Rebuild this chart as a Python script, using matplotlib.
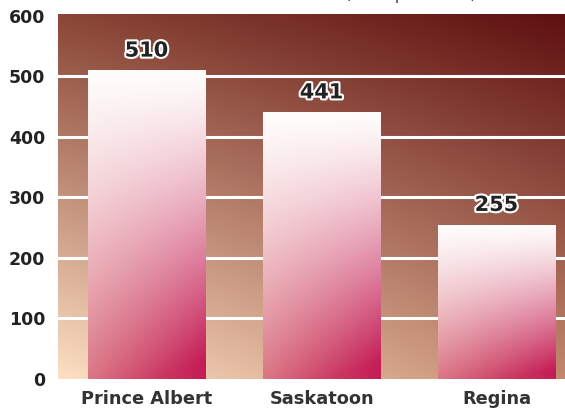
import numpy as np
import matplotlib
matplotlib.use("Agg")
import matplotlib.pyplot as plt
import matplotlib.patheffects as pe
from matplotlib.colors import to_rgb

# chart data
cities = ["Prince Albert", "Saskatoon", "Regina"]
values = [510, 441, 255]
y_ticks = [0, 100, 200, 300, 400, 500, 600]
title_text = "(Rate per 100K)"


def bilinear(tl, tr, bl, br, n=200):
    """Build an RGB image interpolated between four corner colours."""
    tl, tr, bl, br = [np.array(to_rgb(c)) for c in (tl, tr, bl, br)]
    u = np.linspace(0, 1, n)[None, :, None]   # left -> right
    v = np.linspace(0, 1, n)[:, None, None]   # top -> bottom
    top = tl * (1 - u) + tr * u
    bot = bl * (1 - u) + br * u
    return top * (1 - v) + bot * v


def bar_image(n=200):
    """White-to-crimson gradient, slightly tilted towards the lower right."""
    u = np.linspace(0, 1, n)[None, :, None]
    v = np.linspace(0, 1, n)[:, None, None] ** 1.25
    white = np.array(to_rgb("#fffdfc"))
    left = np.array(to_rgb("#d66474"))
    right = np.array(to_rgb("#c41d55"))
    bottom = left * (1 - u) + right * u
    t = np.clip(v * (0.88 + 0.2 * u), 0, 1)
    return white * (1 - t) + bottom * t


fig = plt.figure(figsize=(5.65, 4.09), dpi=100)
ax = fig.add_axes([58 / 565, 30 / 409, 507 / 565, 365 / 409])

x = np.arange(len(cities))
xlim = (-0.506, 2.391)
ylim = (0, 603)

# background gradient
bg = bilinear("#8a4636", "#5e1010", "#fde0c4", "#c2896e")
ax.imshow(bg, extent=(xlim[0], xlim[1], ylim[0], ylim[1]), aspect="auto", zorder=0)

# white gridlines
for t in y_ticks[1:-1]:
    ax.axhline(t, color="white", linewidth=2.2, zorder=1)

bars = ax.bar(x, values, width=0.67, color="none", edgecolor="none", zorder=2)
grad = bar_image()
for rect, val in zip(bars, values):
    x0, y0 = rect.get_x(), rect.get_y()
    w, h = rect.get_width(), rect.get_height()
    im = ax.imshow(grad, extent=(x0, x0 + w, y0, y0 + h), aspect="auto", zorder=2)
    im.set_clip_path(rect)
    ax.text(x0 + w / 2, h + 16, f"{val}", ha="center", va="bottom",
            fontsize=15, fontweight="bold", color="#222222", zorder=4,
            path_effects=[pe.withStroke(linewidth=3, foreground="white")])

ax.set_xlim(*xlim)
ax.set_ylim(*ylim)

ax.set_xticks(x)
ax.set_xticklabels(cities, fontsize=12.8, fontweight="bold", color="#333333")
ax.set_yticks(y_ticks)
ax.set_yticklabels([str(t) for t in y_ticks], fontsize=12.5, fontweight="bold", color="#222222")
ax.tick_params(axis="both", length=0)
ax.tick_params(axis="x", pad=8)
ax.tick_params(axis="y", pad=9)
for s in ax.spines.values():
    s.set_visible(False)

# title mostly cut off above the image, only descenders show
fig.text(0.727, 1.002, title_text, ha="center", va="baseline",
         fontsize=12, color="#444444")

fig.savefig("out.png", dpi=100)
